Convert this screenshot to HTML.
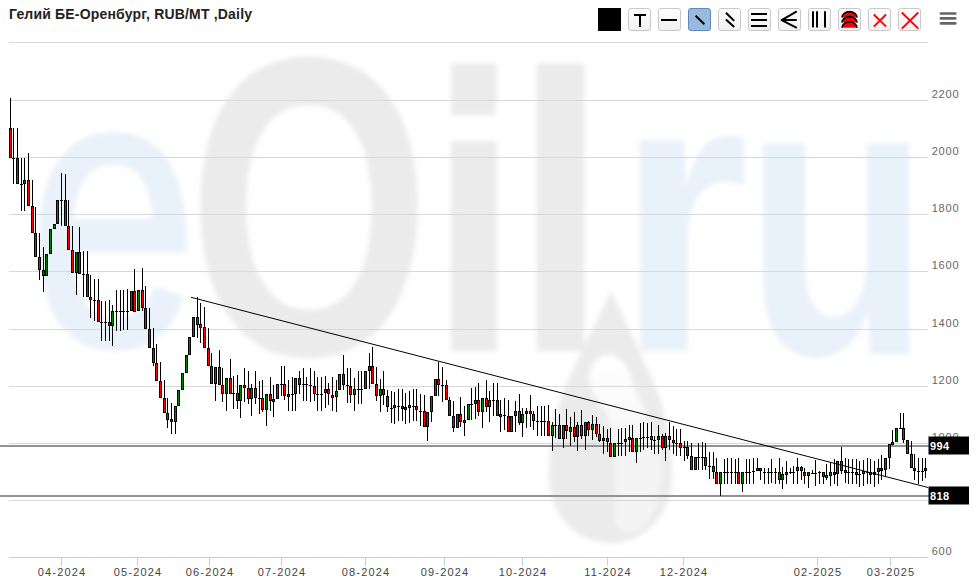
<!DOCTYPE html>
<html><head><meta charset="utf-8"><title>chart</title>
<style>
html,body{margin:0;padding:0;background:#fff;}
body{width:977px;height:587px;position:relative;overflow:hidden;font-family:"Liberation Sans","DejaVu Sans",sans-serif;}
.title{position:absolute;left:9px;top:6px;font-size:14px;font-weight:bold;color:#222;white-space:nowrap;letter-spacing:0.18px}
.hr{position:absolute;left:9px;top:42px;width:919px;height:1px;background:#d8d8d8}
.ax{font-size:11px;fill:#444;letter-spacing:1.15px;font-family:"Liberation Sans",sans-serif}
.ay{font-size:11px;fill:#666;letter-spacing:0.8px;font-family:"Liberation Sans",sans-serif}
.lb{font-size:11px;fill:#fff;font-weight:bold;letter-spacing:0.4px;font-family:"Liberation Sans",sans-serif}
.tb{position:absolute;top:8px;width:21px;height:21px;border:1px solid #c9c9c9;border-radius:3px;background:linear-gradient(#fff,#f0f0f0);box-sizing:content-box}
.tb svg{position:absolute;left:0;top:0}
</style></head><body>
<svg width="977" height="587" viewBox="0 0 977 587" style="position:absolute;left:0;top:0">
<defs><filter id="bl" x="-10%" y="-10%" width="120%" height="120%"><feGaussianBlur stdDeviation="2.4"/></filter><linearGradient id="dg" gradientUnits="userSpaceOnUse" x1="0" y1="355" x2="0" y2="450"><stop offset="0" stop-color="#ffffff"/><stop offset="0.45" stop-color="#fbfbfb"/><stop offset="1" stop-color="#f4f4f4"/></linearGradient></defs>
<g filter="url(#bl)" id="wm">
<g font-family="Liberation Sans, sans-serif" font-weight="bold" font-size="420">
<text transform="translate(29.5,343.3) scale(0.716,0.918)" fill="#e9f1fa" stroke="#e9f1fa" stroke-width="8" font-weight="normal" id="w_e">e</text>
<text transform="translate(187.9,354) scale(0.743,1.0135)" fill="#ebebeb" id="w_O">O</text>
<text transform="translate(427.8,351) scale(0.794,0.945)" fill="#ebebeb" id="w_i">i</text>
<text transform="translate(512.5,351) scale(0.825,0.945)" fill="#ebebeb" id="w_l">l</text>
<text transform="translate(616.7,351) scale(0.81,0.95)" fill="#e9f1fa" id="w_r">r</text>
<text transform="translate(744.7,354) scale(0.723,0.95)" fill="#e9f1fa" id="w_u">u</text>
</g>
<rect x="451.4" y="98" width="44" height="17.3" fill="#ebebeb"/>
<path d="M611 291 L652 378 C 664 405, 672 440, 672 475 C 672 515, 645 543, 610 543 C 576 543, 549 515, 549 475 C 549 440, 557 405, 569 378 Z" fill="#ebebeb"/>
<path d="M609 355 C 621 355, 630 368, 633 385 C 640 400, 654 425, 660 455 C 664 480, 660 512, 641 529 C 630 536, 616 533, 614 520 C 616 490, 616 450, 609 422 C 603 402, 589 394, 589 378 C 589 365, 598 355, 609 355 Z" fill="url(#dg)"/>

</g>
<rect x="9" y="100" width="919" height="1" fill="#d8d8d8"/>
<rect x="9" y="157" width="919" height="1" fill="#d8d8d8"/>
<rect x="9" y="214" width="919" height="1" fill="#d8d8d8"/>
<rect x="9" y="271" width="919" height="1" fill="#d8d8d8"/>
<rect x="9" y="329" width="919" height="1" fill="#d8d8d8"/>
<rect x="9" y="386" width="919" height="1" fill="#d8d8d8"/>
<rect x="9" y="443" width="919" height="1" fill="#d8d8d8"/>
<rect x="9" y="500" width="919" height="1" fill="#d8d8d8"/>
<rect x="9" y="557" width="919" height="1" fill="#c0d0e0"/>
<rect x="61" y="558" width="1" height="8" fill="#c0d0e0"/>
<text x="62" y="576" text-anchor="middle" class="ax">04-2024</text>
<rect x="137" y="558" width="1" height="8" fill="#c0d0e0"/>
<text x="138" y="576" text-anchor="middle" class="ax">05-2024</text>
<rect x="209" y="558" width="1" height="8" fill="#c0d0e0"/>
<text x="210" y="576" text-anchor="middle" class="ax">06-2024</text>
<rect x="281" y="558" width="1" height="8" fill="#c0d0e0"/>
<text x="282" y="576" text-anchor="middle" class="ax">07-2024</text>
<rect x="365" y="558" width="1" height="8" fill="#c0d0e0"/>
<text x="366" y="576" text-anchor="middle" class="ax">08-2024</text>
<rect x="444" y="558" width="1" height="8" fill="#c0d0e0"/>
<text x="445" y="576" text-anchor="middle" class="ax">09-2024</text>
<rect x="522" y="558" width="1" height="8" fill="#c0d0e0"/>
<text x="523" y="576" text-anchor="middle" class="ax">10-2024</text>
<rect x="607" y="558" width="1" height="8" fill="#c0d0e0"/>
<text x="608" y="576" text-anchor="middle" class="ax">11-2024</text>
<rect x="683" y="558" width="1" height="8" fill="#c0d0e0"/>
<text x="684" y="576" text-anchor="middle" class="ax">12-2024</text>
<rect x="817" y="558" width="1" height="8" fill="#c0d0e0"/>
<text x="818" y="576" text-anchor="middle" class="ax">02-2025</text>
<rect x="890" y="558" width="1" height="8" fill="#c0d0e0"/>
<text x="891" y="576" text-anchor="middle" class="ax">03-2025</text>
<text x="931.7" y="98" class="ay">2200</text>
<text x="931.7" y="155" class="ay">2000</text>
<text x="931.7" y="212" class="ay">1800</text>
<text x="931.7" y="269" class="ay">1600</text>
<text x="931.7" y="327" class="ay">1400</text>
<text x="931.7" y="384" class="ay">1200</text>
<text x="931.7" y="441" class="ay">1000</text>
<text x="931.7" y="498" class="ay">800</text>
<text x="931.7" y="555" class="ay">600</text>
<rect x="0" y="445" width="929" height="2" fill="#939393"/>
<rect x="0" y="495" width="929" height="2" fill="#939393"/>
<rect x="10" y="98" width="1" height="60" fill="#000"/>
<rect x="9" y="128" width="3" height="30" fill="#000"/>
<rect x="10" y="129" width="1" height="28" fill="#f00"/>
<rect x="13" y="128" width="1" height="56" fill="#000"/>
<rect x="12" y="158" width="3" height="1" fill="#000"/>
<rect x="17" y="128" width="1" height="56" fill="#000"/>
<rect x="16" y="158" width="3" height="26" fill="#000"/>
<rect x="17" y="159" width="1" height="24" fill="#f00"/>
<rect x="21" y="158" width="1" height="53" fill="#000"/>
<rect x="20" y="184" width="3" height="1" fill="#000"/>
<rect x="24" y="158" width="1" height="53" fill="#000"/>
<rect x="23" y="180" width="3" height="4" fill="#000"/>
<rect x="24" y="181" width="1" height="2" fill="#008000"/>
<rect x="28" y="153" width="1" height="53" fill="#000"/>
<rect x="27" y="180" width="3" height="26" fill="#000"/>
<rect x="28" y="181" width="1" height="24" fill="#f00"/>
<rect x="32" y="180" width="1" height="53" fill="#000"/>
<rect x="31" y="206" width="3" height="27" fill="#000"/>
<rect x="32" y="207" width="1" height="25" fill="#f00"/>
<rect x="35" y="207" width="1" height="50" fill="#000"/>
<rect x="34" y="233" width="3" height="24" fill="#000"/>
<rect x="35" y="234" width="1" height="22" fill="#f00"/>
<rect x="39" y="233" width="1" height="47" fill="#000"/>
<rect x="38" y="257" width="3" height="13" fill="#000"/>
<rect x="39" y="258" width="1" height="11" fill="#f00"/>
<rect x="43" y="247" width="1" height="45" fill="#000"/>
<rect x="42" y="270" width="3" height="6" fill="#000"/>
<rect x="43" y="271" width="1" height="4" fill="#f00"/>
<rect x="46" y="254" width="1" height="22" fill="#000"/>
<rect x="45" y="254" width="3" height="22" fill="#000"/>
<rect x="46" y="255" width="1" height="20" fill="#008000"/>
<rect x="50" y="229" width="1" height="25" fill="#000"/>
<rect x="49" y="229" width="3" height="25" fill="#000"/>
<rect x="50" y="230" width="1" height="23" fill="#008000"/>
<rect x="54" y="224" width="1" height="5" fill="#000"/>
<rect x="53" y="224" width="3" height="5" fill="#000"/>
<rect x="54" y="225" width="1" height="3" fill="#008000"/>
<rect x="57" y="200" width="1" height="24" fill="#000"/>
<rect x="56" y="200" width="3" height="24" fill="#000"/>
<rect x="57" y="201" width="1" height="22" fill="#008000"/>
<rect x="61" y="173" width="1" height="53" fill="#000"/>
<rect x="60" y="200" width="3" height="1" fill="#000"/>
<rect x="65" y="174" width="1" height="52" fill="#000"/>
<rect x="64" y="200" width="3" height="26" fill="#000"/>
<rect x="65" y="201" width="1" height="24" fill="#f00"/>
<rect x="68" y="200" width="1" height="50" fill="#000"/>
<rect x="67" y="226" width="3" height="24" fill="#000"/>
<rect x="68" y="227" width="1" height="22" fill="#f00"/>
<rect x="72" y="226" width="1" height="47" fill="#000"/>
<rect x="71" y="250" width="3" height="23" fill="#000"/>
<rect x="72" y="251" width="1" height="21" fill="#f00"/>
<rect x="76" y="252" width="1" height="43" fill="#000"/>
<rect x="75" y="252" width="3" height="21" fill="#000"/>
<rect x="76" y="253" width="1" height="19" fill="#008000"/>
<rect x="79" y="227" width="1" height="47" fill="#000"/>
<rect x="78" y="252" width="3" height="22" fill="#000"/>
<rect x="79" y="253" width="1" height="20" fill="#f00"/>
<rect x="83" y="251" width="1" height="46" fill="#000"/>
<rect x="82" y="274" width="3" height="1" fill="#000"/>
<rect x="87" y="251" width="1" height="46" fill="#000"/>
<rect x="86" y="274" width="3" height="23" fill="#000"/>
<rect x="87" y="275" width="1" height="21" fill="#f00"/>
<rect x="90" y="275" width="1" height="43" fill="#000"/>
<rect x="89" y="297" width="3" height="3" fill="#000"/>
<rect x="90" y="298" width="1" height="1" fill="#f00"/>
<rect x="94" y="279" width="1" height="42" fill="#000"/>
<rect x="93" y="300" width="3" height="1" fill="#000"/>
<rect x="98" y="279" width="1" height="43" fill="#000"/>
<rect x="97" y="300" width="3" height="22" fill="#000"/>
<rect x="98" y="301" width="1" height="20" fill="#f00"/>
<rect x="101" y="301" width="1" height="40" fill="#000"/>
<rect x="100" y="322" width="3" height="1" fill="#000"/>
<rect x="105" y="301" width="1" height="40" fill="#000"/>
<rect x="104" y="322" width="3" height="1" fill="#000"/>
<rect x="109" y="300" width="1" height="41" fill="#000"/>
<rect x="108" y="322" width="3" height="4" fill="#000"/>
<rect x="109" y="323" width="1" height="2" fill="#f00"/>
<rect x="112" y="305" width="1" height="41" fill="#000"/>
<rect x="111" y="311" width="3" height="15" fill="#000"/>
<rect x="112" y="312" width="1" height="13" fill="#008000"/>
<rect x="116" y="290" width="1" height="41" fill="#000"/>
<rect x="115" y="311" width="3" height="1" fill="#000"/>
<rect x="120" y="290" width="1" height="41" fill="#000"/>
<rect x="119" y="311" width="3" height="1" fill="#000"/>
<rect x="123" y="290" width="1" height="40" fill="#000"/>
<rect x="122" y="311" width="3" height="1" fill="#000"/>
<rect x="127" y="289" width="1" height="41" fill="#000"/>
<rect x="126" y="311" width="3" height="1" fill="#000"/>
<rect x="131" y="291" width="1" height="20" fill="#000"/>
<rect x="130" y="291" width="3" height="20" fill="#000"/>
<rect x="131" y="292" width="1" height="18" fill="#008000"/>
<rect x="134" y="269" width="1" height="43" fill="#000"/>
<rect x="133" y="291" width="3" height="21" fill="#000"/>
<rect x="134" y="292" width="1" height="19" fill="#f00"/>
<rect x="138" y="290" width="1" height="21" fill="#000"/>
<rect x="137" y="290" width="3" height="21" fill="#000"/>
<rect x="138" y="291" width="1" height="19" fill="#008000"/>
<rect x="142" y="268" width="1" height="43" fill="#000"/>
<rect x="141" y="290" width="3" height="18" fill="#000"/>
<rect x="142" y="291" width="1" height="16" fill="#f00"/>
<rect x="145" y="286" width="1" height="43" fill="#000"/>
<rect x="144" y="308" width="3" height="21" fill="#000"/>
<rect x="145" y="309" width="1" height="19" fill="#f00"/>
<rect x="149" y="308" width="1" height="40" fill="#000"/>
<rect x="148" y="329" width="3" height="19" fill="#000"/>
<rect x="149" y="330" width="1" height="17" fill="#f00"/>
<rect x="153" y="328" width="1" height="38" fill="#000"/>
<rect x="152" y="348" width="3" height="15" fill="#000"/>
<rect x="153" y="349" width="1" height="13" fill="#f00"/>
<rect x="156" y="344" width="1" height="37" fill="#000"/>
<rect x="155" y="363" width="3" height="18" fill="#000"/>
<rect x="156" y="364" width="1" height="16" fill="#f00"/>
<rect x="160" y="362" width="1" height="36" fill="#000"/>
<rect x="159" y="381" width="3" height="17" fill="#000"/>
<rect x="160" y="382" width="1" height="15" fill="#f00"/>
<rect x="164" y="380" width="1" height="33" fill="#000"/>
<rect x="163" y="398" width="3" height="15" fill="#000"/>
<rect x="164" y="399" width="1" height="13" fill="#f00"/>
<rect x="167" y="398" width="1" height="30" fill="#000"/>
<rect x="166" y="413" width="3" height="7" fill="#000"/>
<rect x="167" y="414" width="1" height="5" fill="#f00"/>
<rect x="171" y="403" width="1" height="31" fill="#000"/>
<rect x="170" y="419" width="3" height="3" fill="#000"/>
<rect x="171" y="420" width="1" height="1" fill="#f00"/>
<rect x="175" y="406" width="1" height="28" fill="#000"/>
<rect x="174" y="406" width="3" height="16" fill="#000"/>
<rect x="175" y="407" width="1" height="14" fill="#008000"/>
<rect x="178" y="390" width="1" height="16" fill="#000"/>
<rect x="177" y="390" width="3" height="16" fill="#000"/>
<rect x="178" y="391" width="1" height="14" fill="#008000"/>
<rect x="182" y="373" width="1" height="17" fill="#000"/>
<rect x="181" y="373" width="3" height="17" fill="#000"/>
<rect x="182" y="374" width="1" height="15" fill="#008000"/>
<rect x="186" y="355" width="1" height="18" fill="#000"/>
<rect x="185" y="355" width="3" height="18" fill="#000"/>
<rect x="186" y="356" width="1" height="16" fill="#008000"/>
<rect x="189" y="337" width="1" height="18" fill="#000"/>
<rect x="188" y="337" width="3" height="18" fill="#000"/>
<rect x="189" y="338" width="1" height="16" fill="#008000"/>
<rect x="193" y="317" width="1" height="20" fill="#000"/>
<rect x="192" y="317" width="3" height="20" fill="#000"/>
<rect x="193" y="318" width="1" height="18" fill="#008000"/>
<rect x="197" y="297" width="1" height="41" fill="#000"/>
<rect x="196" y="317" width="3" height="8" fill="#000"/>
<rect x="197" y="318" width="1" height="6" fill="#f00"/>
<rect x="200" y="303" width="1" height="40" fill="#000"/>
<rect x="199" y="324" width="3" height="4" fill="#000"/>
<rect x="200" y="325" width="1" height="2" fill="#f00"/>
<rect x="204" y="307" width="1" height="41" fill="#000"/>
<rect x="203" y="327" width="3" height="21" fill="#000"/>
<rect x="204" y="328" width="1" height="19" fill="#f00"/>
<rect x="208" y="328" width="1" height="38" fill="#000"/>
<rect x="207" y="348" width="3" height="18" fill="#000"/>
<rect x="208" y="349" width="1" height="16" fill="#f00"/>
<rect x="211" y="353" width="1" height="31" fill="#000"/>
<rect x="210" y="366" width="3" height="18" fill="#000"/>
<rect x="211" y="367" width="1" height="16" fill="#f00"/>
<rect x="215" y="367" width="1" height="34" fill="#000"/>
<rect x="214" y="367" width="3" height="17" fill="#000"/>
<rect x="215" y="368" width="1" height="15" fill="#008000"/>
<rect x="219" y="350" width="1" height="35" fill="#000"/>
<rect x="218" y="367" width="3" height="18" fill="#000"/>
<rect x="219" y="368" width="1" height="16" fill="#f00"/>
<rect x="222" y="368" width="1" height="34" fill="#000"/>
<rect x="221" y="385" width="3" height="9" fill="#000"/>
<rect x="222" y="386" width="1" height="7" fill="#f00"/>
<rect x="226" y="378" width="1" height="33" fill="#000"/>
<rect x="225" y="378" width="3" height="16" fill="#000"/>
<rect x="226" y="379" width="1" height="14" fill="#008000"/>
<rect x="230" y="359" width="1" height="35" fill="#000"/>
<rect x="229" y="378" width="3" height="16" fill="#000"/>
<rect x="230" y="379" width="1" height="14" fill="#f00"/>
<rect x="233" y="376" width="1" height="33" fill="#000"/>
<rect x="232" y="393" width="3" height="1" fill="#000"/>
<rect x="237" y="375" width="1" height="34" fill="#000"/>
<rect x="236" y="393" width="3" height="8" fill="#000"/>
<rect x="237" y="394" width="1" height="6" fill="#f00"/>
<rect x="240" y="385" width="1" height="33" fill="#000"/>
<rect x="239" y="385" width="3" height="16" fill="#000"/>
<rect x="240" y="386" width="1" height="14" fill="#008000"/>
<rect x="244" y="368" width="1" height="34" fill="#000"/>
<rect x="243" y="385" width="3" height="3" fill="#000"/>
<rect x="244" y="386" width="1" height="1" fill="#f00"/>
<rect x="248" y="371" width="1" height="33" fill="#000"/>
<rect x="247" y="388" width="3" height="11" fill="#000"/>
<rect x="248" y="389" width="1" height="9" fill="#f00"/>
<rect x="251" y="384" width="1" height="32" fill="#000"/>
<rect x="250" y="388" width="3" height="11" fill="#000"/>
<rect x="251" y="389" width="1" height="9" fill="#008000"/>
<rect x="255" y="371" width="1" height="33" fill="#000"/>
<rect x="254" y="388" width="3" height="10" fill="#000"/>
<rect x="255" y="389" width="1" height="8" fill="#f00"/>
<rect x="259" y="381" width="1" height="33" fill="#000"/>
<rect x="258" y="398" width="3" height="1" fill="#000"/>
<rect x="262" y="380" width="1" height="32" fill="#000"/>
<rect x="261" y="398" width="3" height="12" fill="#000"/>
<rect x="262" y="399" width="1" height="10" fill="#f00"/>
<rect x="266" y="394" width="1" height="32" fill="#000"/>
<rect x="265" y="394" width="3" height="16" fill="#000"/>
<rect x="266" y="395" width="1" height="14" fill="#008000"/>
<rect x="270" y="377" width="1" height="34" fill="#000"/>
<rect x="269" y="394" width="3" height="7" fill="#000"/>
<rect x="270" y="395" width="1" height="5" fill="#f00"/>
<rect x="273" y="385" width="1" height="32" fill="#000"/>
<rect x="272" y="399" width="3" height="3" fill="#000"/>
<rect x="273" y="400" width="1" height="1" fill="#008000"/>
<rect x="277" y="384" width="1" height="15" fill="#000"/>
<rect x="276" y="384" width="3" height="15" fill="#000"/>
<rect x="277" y="385" width="1" height="13" fill="#008000"/>
<rect x="281" y="366" width="1" height="30" fill="#000"/>
<rect x="280" y="384" width="3" height="1" fill="#000"/>
<rect x="284" y="366" width="1" height="34" fill="#000"/>
<rect x="283" y="384" width="3" height="12" fill="#000"/>
<rect x="284" y="385" width="1" height="10" fill="#f00"/>
<rect x="288" y="380" width="1" height="31" fill="#000"/>
<rect x="287" y="394" width="3" height="3" fill="#000"/>
<rect x="288" y="395" width="1" height="1" fill="#008000"/>
<rect x="292" y="377" width="1" height="34" fill="#000"/>
<rect x="291" y="394" width="3" height="1" fill="#000"/>
<rect x="295" y="378" width="1" height="33" fill="#000"/>
<rect x="294" y="378" width="3" height="16" fill="#000"/>
<rect x="295" y="379" width="1" height="14" fill="#008000"/>
<rect x="299" y="371" width="1" height="23" fill="#000"/>
<rect x="298" y="378" width="3" height="7" fill="#000"/>
<rect x="299" y="379" width="1" height="5" fill="#f00"/>
<rect x="303" y="368" width="1" height="33" fill="#000"/>
<rect x="302" y="384" width="3" height="1" fill="#000"/>
<rect x="306" y="377" width="1" height="24" fill="#000"/>
<rect x="305" y="384" width="3" height="1" fill="#000"/>
<rect x="310" y="368" width="1" height="34" fill="#000"/>
<rect x="309" y="385" width="3" height="1" fill="#000"/>
<rect x="314" y="371" width="1" height="30" fill="#000"/>
<rect x="313" y="386" width="3" height="8" fill="#000"/>
<rect x="314" y="387" width="1" height="6" fill="#f00"/>
<rect x="317" y="377" width="1" height="34" fill="#000"/>
<rect x="316" y="394" width="3" height="1" fill="#000"/>
<rect x="321" y="377" width="1" height="34" fill="#000"/>
<rect x="320" y="394" width="3" height="1" fill="#000"/>
<rect x="325" y="376" width="1" height="32" fill="#000"/>
<rect x="324" y="389" width="3" height="4" fill="#000"/>
<rect x="325" y="390" width="1" height="2" fill="#008000"/>
<rect x="328" y="383" width="1" height="22" fill="#000"/>
<rect x="327" y="389" width="3" height="5" fill="#000"/>
<rect x="328" y="390" width="1" height="3" fill="#f00"/>
<rect x="332" y="377" width="1" height="34" fill="#000"/>
<rect x="331" y="395" width="3" height="3" fill="#000"/>
<rect x="332" y="396" width="1" height="1" fill="#f00"/>
<rect x="336" y="380" width="1" height="32" fill="#000"/>
<rect x="335" y="391" width="3" height="6" fill="#000"/>
<rect x="336" y="392" width="1" height="4" fill="#008000"/>
<rect x="339" y="374" width="1" height="16" fill="#000"/>
<rect x="338" y="374" width="3" height="16" fill="#000"/>
<rect x="339" y="375" width="1" height="14" fill="#008000"/>
<rect x="343" y="355" width="1" height="35" fill="#000"/>
<rect x="342" y="374" width="3" height="11" fill="#000"/>
<rect x="343" y="375" width="1" height="9" fill="#f00"/>
<rect x="347" y="368" width="1" height="35" fill="#000"/>
<rect x="346" y="385" width="3" height="1" fill="#000"/>
<rect x="350" y="368" width="1" height="35" fill="#000"/>
<rect x="349" y="386" width="3" height="9" fill="#000"/>
<rect x="350" y="387" width="1" height="7" fill="#f00"/>
<rect x="354" y="378" width="1" height="33" fill="#000"/>
<rect x="353" y="389" width="3" height="6" fill="#000"/>
<rect x="354" y="390" width="1" height="4" fill="#008000"/>
<rect x="358" y="371" width="1" height="33" fill="#000"/>
<rect x="357" y="389" width="3" height="1" fill="#000"/>
<rect x="361" y="371" width="1" height="33" fill="#000"/>
<rect x="360" y="389" width="3" height="1" fill="#000"/>
<rect x="365" y="371" width="1" height="18" fill="#000"/>
<rect x="364" y="371" width="3" height="18" fill="#000"/>
<rect x="365" y="372" width="1" height="16" fill="#008000"/>
<rect x="369" y="353" width="1" height="36" fill="#000"/>
<rect x="368" y="366" width="3" height="5" fill="#000"/>
<rect x="369" y="367" width="1" height="3" fill="#008000"/>
<rect x="372" y="347" width="1" height="37" fill="#000"/>
<rect x="371" y="366" width="3" height="18" fill="#000"/>
<rect x="372" y="367" width="1" height="16" fill="#f00"/>
<rect x="376" y="367" width="1" height="34" fill="#000"/>
<rect x="375" y="384" width="3" height="12" fill="#000"/>
<rect x="376" y="385" width="1" height="10" fill="#f00"/>
<rect x="380" y="379" width="1" height="33" fill="#000"/>
<rect x="379" y="389" width="3" height="7" fill="#000"/>
<rect x="380" y="390" width="1" height="5" fill="#008000"/>
<rect x="383" y="371" width="1" height="34" fill="#000"/>
<rect x="382" y="389" width="3" height="6" fill="#000"/>
<rect x="383" y="390" width="1" height="4" fill="#f00"/>
<rect x="387" y="390" width="1" height="22" fill="#000"/>
<rect x="386" y="396" width="3" height="11" fill="#000"/>
<rect x="387" y="397" width="1" height="9" fill="#f00"/>
<rect x="391" y="391" width="1" height="32" fill="#000"/>
<rect x="390" y="408" width="3" height="1" fill="#000"/>
<rect x="394" y="392" width="1" height="32" fill="#000"/>
<rect x="393" y="405" width="3" height="3" fill="#000"/>
<rect x="394" y="406" width="1" height="1" fill="#008000"/>
<rect x="398" y="389" width="1" height="32" fill="#000"/>
<rect x="397" y="406" width="3" height="1" fill="#000"/>
<rect x="402" y="389" width="1" height="32" fill="#000"/>
<rect x="401" y="406" width="3" height="3" fill="#000"/>
<rect x="402" y="407" width="1" height="1" fill="#f00"/>
<rect x="405" y="393" width="1" height="31" fill="#000"/>
<rect x="404" y="407" width="3" height="3" fill="#000"/>
<rect x="405" y="408" width="1" height="1" fill="#008000"/>
<rect x="409" y="391" width="1" height="32" fill="#000"/>
<rect x="408" y="405" width="3" height="3" fill="#000"/>
<rect x="409" y="406" width="1" height="1" fill="#008000"/>
<rect x="413" y="389" width="1" height="32" fill="#000"/>
<rect x="412" y="406" width="3" height="1" fill="#000"/>
<rect x="416" y="389" width="1" height="32" fill="#000"/>
<rect x="415" y="406" width="3" height="4" fill="#000"/>
<rect x="416" y="407" width="1" height="2" fill="#f00"/>
<rect x="420" y="394" width="1" height="32" fill="#000"/>
<rect x="419" y="411" width="3" height="1" fill="#000"/>
<rect x="424" y="395" width="1" height="32" fill="#000"/>
<rect x="423" y="411" width="3" height="16" fill="#000"/>
<rect x="424" y="412" width="1" height="14" fill="#f00"/>
<rect x="427" y="412" width="1" height="29" fill="#000"/>
<rect x="426" y="412" width="3" height="15" fill="#000"/>
<rect x="427" y="413" width="1" height="13" fill="#008000"/>
<rect x="431" y="396" width="1" height="26" fill="#000"/>
<rect x="430" y="396" width="3" height="16" fill="#000"/>
<rect x="431" y="397" width="1" height="14" fill="#008000"/>
<rect x="435" y="379" width="1" height="17" fill="#000"/>
<rect x="434" y="379" width="3" height="17" fill="#000"/>
<rect x="435" y="380" width="1" height="15" fill="#008000"/>
<rect x="438" y="362" width="1" height="34" fill="#000"/>
<rect x="437" y="379" width="3" height="6" fill="#000"/>
<rect x="438" y="380" width="1" height="4" fill="#f00"/>
<rect x="442" y="367" width="1" height="35" fill="#000"/>
<rect x="441" y="385" width="3" height="1" fill="#000"/>
<rect x="446" y="380" width="1" height="20" fill="#000"/>
<rect x="445" y="385" width="3" height="15" fill="#000"/>
<rect x="446" y="386" width="1" height="13" fill="#f00"/>
<rect x="449" y="397" width="1" height="19" fill="#000"/>
<rect x="448" y="400" width="3" height="16" fill="#000"/>
<rect x="449" y="401" width="1" height="14" fill="#f00"/>
<rect x="453" y="401" width="1" height="31" fill="#000"/>
<rect x="452" y="416" width="3" height="12" fill="#000"/>
<rect x="453" y="417" width="1" height="10" fill="#f00"/>
<rect x="457" y="414" width="1" height="14" fill="#000"/>
<rect x="456" y="414" width="3" height="14" fill="#000"/>
<rect x="457" y="415" width="1" height="12" fill="#008000"/>
<rect x="460" y="397" width="1" height="30" fill="#000"/>
<rect x="459" y="414" width="3" height="8" fill="#000"/>
<rect x="460" y="415" width="1" height="6" fill="#f00"/>
<rect x="464" y="406" width="1" height="30" fill="#000"/>
<rect x="463" y="420" width="3" height="3" fill="#000"/>
<rect x="464" y="421" width="1" height="1" fill="#008000"/>
<rect x="468" y="404" width="1" height="16" fill="#000"/>
<rect x="467" y="404" width="3" height="16" fill="#000"/>
<rect x="468" y="405" width="1" height="14" fill="#008000"/>
<rect x="471" y="388" width="1" height="32" fill="#000"/>
<rect x="470" y="404" width="3" height="1" fill="#000"/>
<rect x="475" y="387" width="1" height="32" fill="#000"/>
<rect x="474" y="400" width="3" height="4" fill="#000"/>
<rect x="475" y="401" width="1" height="2" fill="#008000"/>
<rect x="478" y="383" width="1" height="33" fill="#000"/>
<rect x="477" y="400" width="3" height="12" fill="#000"/>
<rect x="478" y="401" width="1" height="10" fill="#f00"/>
<rect x="482" y="398" width="1" height="30" fill="#000"/>
<rect x="481" y="398" width="3" height="14" fill="#000"/>
<rect x="482" y="399" width="1" height="12" fill="#008000"/>
<rect x="486" y="380" width="1" height="32" fill="#000"/>
<rect x="485" y="398" width="3" height="9" fill="#000"/>
<rect x="486" y="399" width="1" height="7" fill="#f00"/>
<rect x="489" y="391" width="1" height="31" fill="#000"/>
<rect x="488" y="400" width="3" height="7" fill="#000"/>
<rect x="489" y="401" width="1" height="5" fill="#008000"/>
<rect x="493" y="383" width="1" height="33" fill="#000"/>
<rect x="492" y="400" width="3" height="1" fill="#000"/>
<rect x="497" y="383" width="1" height="33" fill="#000"/>
<rect x="496" y="400" width="3" height="16" fill="#000"/>
<rect x="497" y="401" width="1" height="14" fill="#f00"/>
<rect x="500" y="400" width="1" height="32" fill="#000"/>
<rect x="499" y="414" width="3" height="3" fill="#000"/>
<rect x="500" y="415" width="1" height="1" fill="#008000"/>
<rect x="504" y="398" width="1" height="32" fill="#000"/>
<rect x="503" y="415" width="3" height="1" fill="#000"/>
<rect x="508" y="400" width="1" height="32" fill="#000"/>
<rect x="507" y="416" width="3" height="16" fill="#000"/>
<rect x="508" y="417" width="1" height="14" fill="#f00"/>
<rect x="511" y="416" width="1" height="16" fill="#000"/>
<rect x="510" y="416" width="3" height="16" fill="#000"/>
<rect x="511" y="417" width="1" height="14" fill="#008000"/>
<rect x="515" y="401" width="1" height="31" fill="#000"/>
<rect x="514" y="411" width="3" height="5" fill="#000"/>
<rect x="515" y="412" width="1" height="3" fill="#008000"/>
<rect x="519" y="394" width="1" height="31" fill="#000"/>
<rect x="518" y="411" width="3" height="12" fill="#000"/>
<rect x="519" y="412" width="1" height="10" fill="#f00"/>
<rect x="522" y="408" width="1" height="29" fill="#000"/>
<rect x="521" y="414" width="3" height="9" fill="#000"/>
<rect x="522" y="415" width="1" height="7" fill="#008000"/>
<rect x="526" y="408" width="1" height="20" fill="#000"/>
<rect x="525" y="411" width="3" height="3" fill="#000"/>
<rect x="526" y="412" width="1" height="1" fill="#008000"/>
<rect x="530" y="395" width="1" height="32" fill="#000"/>
<rect x="529" y="411" width="3" height="3" fill="#000"/>
<rect x="530" y="412" width="1" height="1" fill="#f00"/>
<rect x="533" y="411" width="1" height="19" fill="#000"/>
<rect x="532" y="414" width="3" height="7" fill="#000"/>
<rect x="533" y="415" width="1" height="5" fill="#f00"/>
<rect x="537" y="406" width="1" height="30" fill="#000"/>
<rect x="536" y="421" width="3" height="1" fill="#000"/>
<rect x="541" y="406" width="1" height="30" fill="#000"/>
<rect x="540" y="421" width="3" height="1" fill="#000"/>
<rect x="544" y="406" width="1" height="30" fill="#000"/>
<rect x="543" y="421" width="3" height="1" fill="#000"/>
<rect x="548" y="405" width="1" height="31" fill="#000"/>
<rect x="547" y="421" width="3" height="15" fill="#000"/>
<rect x="548" y="422" width="1" height="13" fill="#f00"/>
<rect x="552" y="422" width="1" height="29" fill="#000"/>
<rect x="551" y="425" width="3" height="11" fill="#000"/>
<rect x="552" y="426" width="1" height="9" fill="#008000"/>
<rect x="555" y="409" width="1" height="29" fill="#000"/>
<rect x="554" y="425" width="3" height="1" fill="#000"/>
<rect x="559" y="414" width="1" height="25" fill="#000"/>
<rect x="558" y="425" width="3" height="14" fill="#000"/>
<rect x="559" y="426" width="1" height="12" fill="#f00"/>
<rect x="563" y="425" width="1" height="23" fill="#000"/>
<rect x="562" y="425" width="3" height="14" fill="#000"/>
<rect x="563" y="426" width="1" height="12" fill="#008000"/>
<rect x="566" y="409" width="1" height="30" fill="#000"/>
<rect x="565" y="425" width="3" height="6" fill="#000"/>
<rect x="566" y="426" width="1" height="4" fill="#f00"/>
<rect x="570" y="417" width="1" height="29" fill="#000"/>
<rect x="569" y="427" width="3" height="5" fill="#000"/>
<rect x="570" y="428" width="1" height="3" fill="#008000"/>
<rect x="574" y="412" width="1" height="30" fill="#000"/>
<rect x="573" y="427" width="3" height="10" fill="#000"/>
<rect x="574" y="428" width="1" height="8" fill="#f00"/>
<rect x="577" y="422" width="1" height="29" fill="#000"/>
<rect x="576" y="425" width="3" height="12" fill="#000"/>
<rect x="577" y="426" width="1" height="10" fill="#008000"/>
<rect x="581" y="410" width="1" height="29" fill="#000"/>
<rect x="580" y="425" width="3" height="11" fill="#000"/>
<rect x="581" y="426" width="1" height="9" fill="#f00"/>
<rect x="585" y="422" width="1" height="28" fill="#000"/>
<rect x="584" y="422" width="3" height="14" fill="#000"/>
<rect x="585" y="423" width="1" height="12" fill="#008000"/>
<rect x="588" y="421" width="1" height="15" fill="#000"/>
<rect x="587" y="422" width="3" height="8" fill="#000"/>
<rect x="588" y="423" width="1" height="6" fill="#f00"/>
<rect x="592" y="415" width="1" height="25" fill="#000"/>
<rect x="591" y="424" width="3" height="6" fill="#000"/>
<rect x="592" y="425" width="1" height="4" fill="#008000"/>
<rect x="596" y="417" width="1" height="20" fill="#000"/>
<rect x="595" y="424" width="3" height="10" fill="#000"/>
<rect x="596" y="425" width="1" height="8" fill="#f00"/>
<rect x="599" y="424" width="1" height="18" fill="#000"/>
<rect x="598" y="434" width="3" height="7" fill="#000"/>
<rect x="599" y="435" width="1" height="5" fill="#f00"/>
<rect x="603" y="426" width="1" height="28" fill="#000"/>
<rect x="602" y="438" width="3" height="3" fill="#000"/>
<rect x="603" y="439" width="1" height="1" fill="#008000"/>
<rect x="607" y="429" width="1" height="23" fill="#000"/>
<rect x="606" y="438" width="3" height="4" fill="#000"/>
<rect x="607" y="439" width="1" height="2" fill="#f00"/>
<rect x="610" y="428" width="1" height="29" fill="#000"/>
<rect x="609" y="443" width="3" height="14" fill="#000"/>
<rect x="610" y="444" width="1" height="12" fill="#f00"/>
<rect x="614" y="443" width="1" height="14" fill="#000"/>
<rect x="613" y="443" width="3" height="14" fill="#000"/>
<rect x="614" y="444" width="1" height="12" fill="#008000"/>
<rect x="618" y="429" width="1" height="27" fill="#000"/>
<rect x="617" y="443" width="3" height="1" fill="#000"/>
<rect x="621" y="428" width="1" height="28" fill="#000"/>
<rect x="620" y="443" width="3" height="1" fill="#000"/>
<rect x="625" y="428" width="1" height="28" fill="#000"/>
<rect x="624" y="439" width="3" height="3" fill="#000"/>
<rect x="625" y="440" width="1" height="1" fill="#008000"/>
<rect x="629" y="425" width="1" height="27" fill="#000"/>
<rect x="628" y="437" width="3" height="3" fill="#000"/>
<rect x="629" y="438" width="1" height="1" fill="#008000"/>
<rect x="632" y="425" width="1" height="27" fill="#000"/>
<rect x="631" y="438" width="3" height="14" fill="#000"/>
<rect x="632" y="439" width="1" height="12" fill="#f00"/>
<rect x="636" y="438" width="1" height="25" fill="#000"/>
<rect x="635" y="438" width="3" height="14" fill="#000"/>
<rect x="636" y="439" width="1" height="12" fill="#008000"/>
<rect x="640" y="423" width="1" height="29" fill="#000"/>
<rect x="639" y="438" width="3" height="1" fill="#000"/>
<rect x="643" y="422" width="1" height="28" fill="#000"/>
<rect x="642" y="437" width="3" height="1" fill="#000"/>
<rect x="647" y="423" width="1" height="25" fill="#000"/>
<rect x="646" y="437" width="3" height="1" fill="#000"/>
<rect x="651" y="422" width="1" height="28" fill="#000"/>
<rect x="650" y="436" width="3" height="4" fill="#000"/>
<rect x="651" y="437" width="1" height="2" fill="#f00"/>
<rect x="654" y="436" width="1" height="18" fill="#000"/>
<rect x="653" y="440" width="3" height="1" fill="#000"/>
<rect x="658" y="425" width="1" height="29" fill="#000"/>
<rect x="657" y="436" width="3" height="4" fill="#000"/>
<rect x="658" y="437" width="1" height="2" fill="#008000"/>
<rect x="662" y="434" width="1" height="16" fill="#000"/>
<rect x="661" y="436" width="3" height="12" fill="#000"/>
<rect x="662" y="437" width="1" height="10" fill="#f00"/>
<rect x="665" y="433" width="1" height="28" fill="#000"/>
<rect x="664" y="436" width="3" height="12" fill="#000"/>
<rect x="665" y="437" width="1" height="10" fill="#008000"/>
<rect x="669" y="422" width="1" height="28" fill="#000"/>
<rect x="668" y="436" width="3" height="4" fill="#000"/>
<rect x="669" y="437" width="1" height="2" fill="#f00"/>
<rect x="673" y="426" width="1" height="28" fill="#000"/>
<rect x="672" y="440" width="3" height="3" fill="#000"/>
<rect x="673" y="441" width="1" height="1" fill="#f00"/>
<rect x="676" y="429" width="1" height="27" fill="#000"/>
<rect x="675" y="443" width="3" height="1" fill="#000"/>
<rect x="680" y="429" width="1" height="27" fill="#000"/>
<rect x="679" y="443" width="3" height="5" fill="#000"/>
<rect x="680" y="444" width="1" height="3" fill="#f00"/>
<rect x="684" y="441" width="1" height="20" fill="#000"/>
<rect x="683" y="447" width="3" height="1" fill="#000"/>
<rect x="687" y="441" width="1" height="18" fill="#000"/>
<rect x="686" y="447" width="3" height="9" fill="#000"/>
<rect x="687" y="448" width="1" height="7" fill="#f00"/>
<rect x="691" y="443" width="1" height="27" fill="#000"/>
<rect x="690" y="456" width="3" height="14" fill="#000"/>
<rect x="691" y="457" width="1" height="12" fill="#f00"/>
<rect x="695" y="457" width="1" height="13" fill="#000"/>
<rect x="694" y="457" width="3" height="13" fill="#000"/>
<rect x="695" y="458" width="1" height="11" fill="#008000"/>
<rect x="698" y="443" width="1" height="27" fill="#000"/>
<rect x="697" y="457" width="3" height="1" fill="#000"/>
<rect x="702" y="442" width="1" height="28" fill="#000"/>
<rect x="701" y="457" width="3" height="1" fill="#000"/>
<rect x="705" y="443" width="1" height="27" fill="#000"/>
<rect x="704" y="457" width="3" height="9" fill="#000"/>
<rect x="705" y="458" width="1" height="7" fill="#f00"/>
<rect x="709" y="452" width="1" height="27" fill="#000"/>
<rect x="708" y="466" width="3" height="1" fill="#000"/>
<rect x="713" y="452" width="1" height="27" fill="#000"/>
<rect x="712" y="466" width="3" height="6" fill="#000"/>
<rect x="713" y="467" width="1" height="4" fill="#f00"/>
<rect x="716" y="458" width="1" height="26" fill="#000"/>
<rect x="715" y="472" width="3" height="12" fill="#000"/>
<rect x="716" y="473" width="1" height="10" fill="#f00"/>
<rect x="720" y="472" width="1" height="24" fill="#000"/>
<rect x="719" y="472" width="3" height="12" fill="#000"/>
<rect x="720" y="473" width="1" height="10" fill="#008000"/>
<rect x="724" y="459" width="1" height="25" fill="#000"/>
<rect x="723" y="472" width="3" height="1" fill="#000"/>
<rect x="727" y="458" width="1" height="26" fill="#000"/>
<rect x="726" y="472" width="3" height="1" fill="#000"/>
<rect x="731" y="458" width="1" height="26" fill="#000"/>
<rect x="730" y="472" width="3" height="1" fill="#000"/>
<rect x="735" y="459" width="1" height="25" fill="#000"/>
<rect x="734" y="472" width="3" height="1" fill="#000"/>
<rect x="738" y="458" width="1" height="26" fill="#000"/>
<rect x="737" y="472" width="3" height="12" fill="#000"/>
<rect x="738" y="473" width="1" height="10" fill="#f00"/>
<rect x="742" y="472" width="1" height="20" fill="#000"/>
<rect x="741" y="472" width="3" height="12" fill="#000"/>
<rect x="742" y="473" width="1" height="10" fill="#008000"/>
<rect x="746" y="459" width="1" height="25" fill="#000"/>
<rect x="745" y="472" width="3" height="1" fill="#000"/>
<rect x="749" y="459" width="1" height="25" fill="#000"/>
<rect x="748" y="472" width="3" height="1" fill="#000"/>
<rect x="753" y="458" width="1" height="26" fill="#000"/>
<rect x="752" y="471" width="3" height="1" fill="#000"/>
<rect x="757" y="458" width="1" height="13" fill="#000"/>
<rect x="756" y="468" width="3" height="3" fill="#000"/>
<rect x="757" y="469" width="1" height="1" fill="#008000"/>
<rect x="760" y="468" width="1" height="12" fill="#000"/>
<rect x="759" y="468" width="3" height="3" fill="#000"/>
<rect x="760" y="469" width="1" height="1" fill="#f00"/>
<rect x="764" y="468" width="1" height="16" fill="#000"/>
<rect x="763" y="472" width="3" height="1" fill="#000"/>
<rect x="768" y="468" width="1" height="16" fill="#000"/>
<rect x="767" y="472" width="3" height="1" fill="#000"/>
<rect x="771" y="459" width="1" height="24" fill="#000"/>
<rect x="770" y="472" width="3" height="1" fill="#000"/>
<rect x="775" y="468" width="1" height="16" fill="#000"/>
<rect x="774" y="472" width="3" height="1" fill="#000"/>
<rect x="779" y="458" width="1" height="26" fill="#000"/>
<rect x="778" y="472" width="3" height="8" fill="#000"/>
<rect x="779" y="473" width="1" height="6" fill="#f00"/>
<rect x="782" y="467" width="1" height="22" fill="#000"/>
<rect x="781" y="474" width="3" height="6" fill="#000"/>
<rect x="782" y="475" width="1" height="4" fill="#008000"/>
<rect x="786" y="461" width="1" height="23" fill="#000"/>
<rect x="785" y="472" width="3" height="3" fill="#000"/>
<rect x="786" y="473" width="1" height="1" fill="#008000"/>
<rect x="790" y="468" width="1" height="6" fill="#000"/>
<rect x="789" y="472" width="3" height="1" fill="#000"/>
<rect x="793" y="466" width="1" height="18" fill="#000"/>
<rect x="792" y="472" width="3" height="1" fill="#000"/>
<rect x="797" y="458" width="1" height="26" fill="#000"/>
<rect x="796" y="467" width="3" height="4" fill="#000"/>
<rect x="797" y="468" width="1" height="2" fill="#008000"/>
<rect x="801" y="466" width="1" height="14" fill="#000"/>
<rect x="800" y="467" width="3" height="4" fill="#000"/>
<rect x="801" y="468" width="1" height="2" fill="#f00"/>
<rect x="804" y="468" width="1" height="16" fill="#000"/>
<rect x="803" y="472" width="3" height="4" fill="#000"/>
<rect x="804" y="473" width="1" height="2" fill="#f00"/>
<rect x="808" y="472" width="1" height="16" fill="#000"/>
<rect x="807" y="472" width="3" height="4" fill="#000"/>
<rect x="808" y="473" width="1" height="2" fill="#008000"/>
<rect x="812" y="470" width="1" height="4" fill="#000"/>
<rect x="811" y="473" width="3" height="1" fill="#000"/>
<rect x="815" y="460" width="1" height="26" fill="#000"/>
<rect x="814" y="473" width="3" height="1" fill="#000"/>
<rect x="819" y="471" width="1" height="13" fill="#000"/>
<rect x="818" y="472" width="3" height="1" fill="#000"/>
<rect x="823" y="472" width="1" height="12" fill="#000"/>
<rect x="822" y="472" width="3" height="5" fill="#000"/>
<rect x="823" y="473" width="1" height="3" fill="#f00"/>
<rect x="826" y="464" width="1" height="16" fill="#000"/>
<rect x="825" y="475" width="3" height="3" fill="#000"/>
<rect x="826" y="476" width="1" height="1" fill="#008000"/>
<rect x="830" y="462" width="1" height="24" fill="#000"/>
<rect x="829" y="472" width="3" height="4" fill="#000"/>
<rect x="830" y="473" width="1" height="2" fill="#008000"/>
<rect x="834" y="459" width="1" height="25" fill="#000"/>
<rect x="833" y="472" width="3" height="3" fill="#000"/>
<rect x="834" y="473" width="1" height="1" fill="#f00"/>
<rect x="837" y="461" width="1" height="25" fill="#000"/>
<rect x="836" y="461" width="3" height="13" fill="#000"/>
<rect x="837" y="462" width="1" height="11" fill="#008000"/>
<rect x="841" y="447" width="1" height="27" fill="#000"/>
<rect x="840" y="461" width="3" height="10" fill="#000"/>
<rect x="841" y="462" width="1" height="8" fill="#f00"/>
<rect x="845" y="458" width="1" height="25" fill="#000"/>
<rect x="844" y="470" width="3" height="3" fill="#000"/>
<rect x="845" y="471" width="1" height="1" fill="#f00"/>
<rect x="848" y="459" width="1" height="25" fill="#000"/>
<rect x="847" y="472" width="3" height="1" fill="#000"/>
<rect x="852" y="459" width="1" height="25" fill="#000"/>
<rect x="851" y="472" width="3" height="1" fill="#000"/>
<rect x="856" y="459" width="1" height="25" fill="#000"/>
<rect x="855" y="472" width="3" height="3" fill="#000"/>
<rect x="856" y="473" width="1" height="1" fill="#f00"/>
<rect x="859" y="461" width="1" height="26" fill="#000"/>
<rect x="858" y="474" width="3" height="1" fill="#000"/>
<rect x="863" y="460" width="1" height="26" fill="#000"/>
<rect x="862" y="471" width="3" height="3" fill="#000"/>
<rect x="863" y="472" width="1" height="1" fill="#008000"/>
<rect x="867" y="458" width="1" height="26" fill="#000"/>
<rect x="866" y="472" width="3" height="1" fill="#000"/>
<rect x="870" y="459" width="1" height="25" fill="#000"/>
<rect x="869" y="472" width="3" height="3" fill="#000"/>
<rect x="870" y="473" width="1" height="1" fill="#f00"/>
<rect x="874" y="461" width="1" height="26" fill="#000"/>
<rect x="873" y="472" width="3" height="3" fill="#000"/>
<rect x="874" y="473" width="1" height="1" fill="#008000"/>
<rect x="878" y="459" width="1" height="25" fill="#000"/>
<rect x="877" y="468" width="3" height="4" fill="#000"/>
<rect x="878" y="469" width="1" height="2" fill="#008000"/>
<rect x="881" y="455" width="1" height="25" fill="#000"/>
<rect x="880" y="468" width="3" height="3" fill="#000"/>
<rect x="881" y="469" width="1" height="1" fill="#f00"/>
<rect x="885" y="458" width="1" height="18" fill="#000"/>
<rect x="884" y="458" width="3" height="12" fill="#000"/>
<rect x="885" y="459" width="1" height="10" fill="#008000"/>
<rect x="889" y="444" width="1" height="25" fill="#000"/>
<rect x="888" y="444" width="3" height="14" fill="#000"/>
<rect x="889" y="445" width="1" height="12" fill="#008000"/>
<rect x="892" y="430" width="1" height="14" fill="#000"/>
<rect x="891" y="442" width="3" height="3" fill="#000"/>
<rect x="892" y="443" width="1" height="1" fill="#008000"/>
<rect x="896" y="428" width="1" height="14" fill="#000"/>
<rect x="895" y="428" width="3" height="14" fill="#000"/>
<rect x="896" y="429" width="1" height="12" fill="#008000"/>
<rect x="900" y="413" width="1" height="15" fill="#000"/>
<rect x="899" y="428" width="3" height="1" fill="#000"/>
<rect x="903" y="413" width="1" height="30" fill="#000"/>
<rect x="902" y="428" width="3" height="12" fill="#000"/>
<rect x="903" y="429" width="1" height="10" fill="#f00"/>
<rect x="907" y="440" width="1" height="14" fill="#000"/>
<rect x="906" y="440" width="3" height="14" fill="#000"/>
<rect x="907" y="441" width="1" height="12" fill="#f00"/>
<rect x="911" y="441" width="1" height="27" fill="#000"/>
<rect x="910" y="454" width="3" height="14" fill="#000"/>
<rect x="911" y="455" width="1" height="12" fill="#f00"/>
<rect x="914" y="454" width="1" height="26" fill="#000"/>
<rect x="913" y="468" width="3" height="3" fill="#000"/>
<rect x="914" y="469" width="1" height="1" fill="#f00"/>
<rect x="918" y="458" width="1" height="26" fill="#000"/>
<rect x="917" y="471" width="3" height="1" fill="#000"/>
<rect x="922" y="458" width="1" height="23" fill="#000"/>
<rect x="921" y="471" width="3" height="1" fill="#000"/>
<rect x="925" y="458" width="1" height="20" fill="#000"/>
<rect x="924" y="468" width="3" height="3" fill="#000"/>
<rect x="925" y="469" width="1" height="1" fill="#008000"/>
<line x1="191" y1="297.3" x2="928" y2="487.5" stroke="#000" stroke-width="1"/>
<rect x="928.5" y="436.5" width="40.5" height="18" fill="#000"/><text x="930" y="450" class="lb">994</text>
<rect x="928.5" y="486.5" width="40.5" height="18" fill="#000"/><text x="930" y="500" class="lb">818</text>
</svg>
<div class="title">Гелий БЕ-Оренбург, RUB/MT ,Daily</div>
<div class="hr"></div>
<div style="position:absolute;left:598px;top:8px;width:23px;height:23px;background:#000"></div>
<div class="tb" style="left:628px"><svg width="21" height="21" viewBox="1 1 21 21"><path d="M6 7H18M12 7V19" stroke="#000" stroke-width="2" fill="none"/></svg></div>
<div class="tb" style="left:658px"><svg width="21" height="21" viewBox="1 1 21 21"><path d="M3 12H19" stroke="#000" stroke-width="2" fill="none"/></svg></div>
<div class="tb" style="left:688px;background:#99badd;border-color:#6189b8"><svg width="21" height="21" viewBox="1 1 21 21"><path d="M7.6 7.8L16.4 16.2" stroke="#000" stroke-width="2" fill="none"/></svg></div>
<div class="tb" style="left:718px"><svg width="21" height="21" viewBox="1 1 21 21"><path d="M7.9 4.7L16.2 12.9M7.9 11.4L16.2 19.1" stroke="#000" stroke-width="2" fill="none"/></svg></div>
<div class="tb" style="left:748px"><svg width="21" height="21" viewBox="1 1 21 21"><path d="M3 6H19M3 12H19M3 18H19" stroke="#000" stroke-width="2" fill="none"/></svg></div>
<div class="tb" style="left:778px"><svg width="21" height="21" viewBox="1 1 21 21"><path d="M18.8 3.4L3.6 12.1L18.8 19.8M3.6 12.1H18.8" stroke="#000" stroke-width="2" fill="none" stroke-linejoin="round"/></svg></div>
<div class="tb" style="left:808px"><svg width="21" height="21" viewBox="1 1 21 21"><path d="M5 3.2V19.6M9 3.2V19.6M17 3.2V19.6" stroke="#000" stroke-width="2" fill="none"/></svg></div>
<div class="tb" style="left:838px"><svg width="21" height="21" viewBox="1 1 21 21"><g stroke="#000" stroke-width="1.6" fill="#f00"><path d="M4 9.6A7.5 6 0 0 1 19 9.6Z" stroke="none"/><path d="M4 9.6A7.5 6 0 0 1 19 9.6" fill="none"/><path d="M4 14.6A7.5 6 0 0 1 19 14.6Z" stroke="none"/><path d="M4 14.6A7.5 6 0 0 1 19 14.6" fill="none"/><path d="M4 19.8A7.5 6 0 0 1 19 19.8Z" stroke="none"/><path d="M4 19.8A7.5 6 0 0 1 19 19.8" fill="none"/></g></svg></div>
<div class="tb" style="left:868px"><svg width="21" height="21" viewBox="1 1 21 21"><path d="M5.8 6.5L18.1 18.6M18.1 6.5L5.8 18.6" stroke="#f00" stroke-width="1.9" fill="none"/></svg></div>
<div class="tb" style="left:898px"><svg width="21" height="21" viewBox="1 1 21 21"><path d="M3.8 4.5L20.3 20.6M20.3 4.5L3.8 20.6" stroke="#f00" stroke-width="1.9" fill="none"/></svg></div>
<svg style="position:absolute;left:938px;top:10px" width="20" height="17" viewBox="938 10 20 17"><g fill="#666"><rect x="939.6" y="12.2" width="17" height="2.6" rx="1.3"/><rect x="939.6" y="17.1" width="17" height="2.6" rx="1.3"/><rect x="939.6" y="22.1" width="17" height="2.6" rx="1.3"/></g></svg>

</body></html>
